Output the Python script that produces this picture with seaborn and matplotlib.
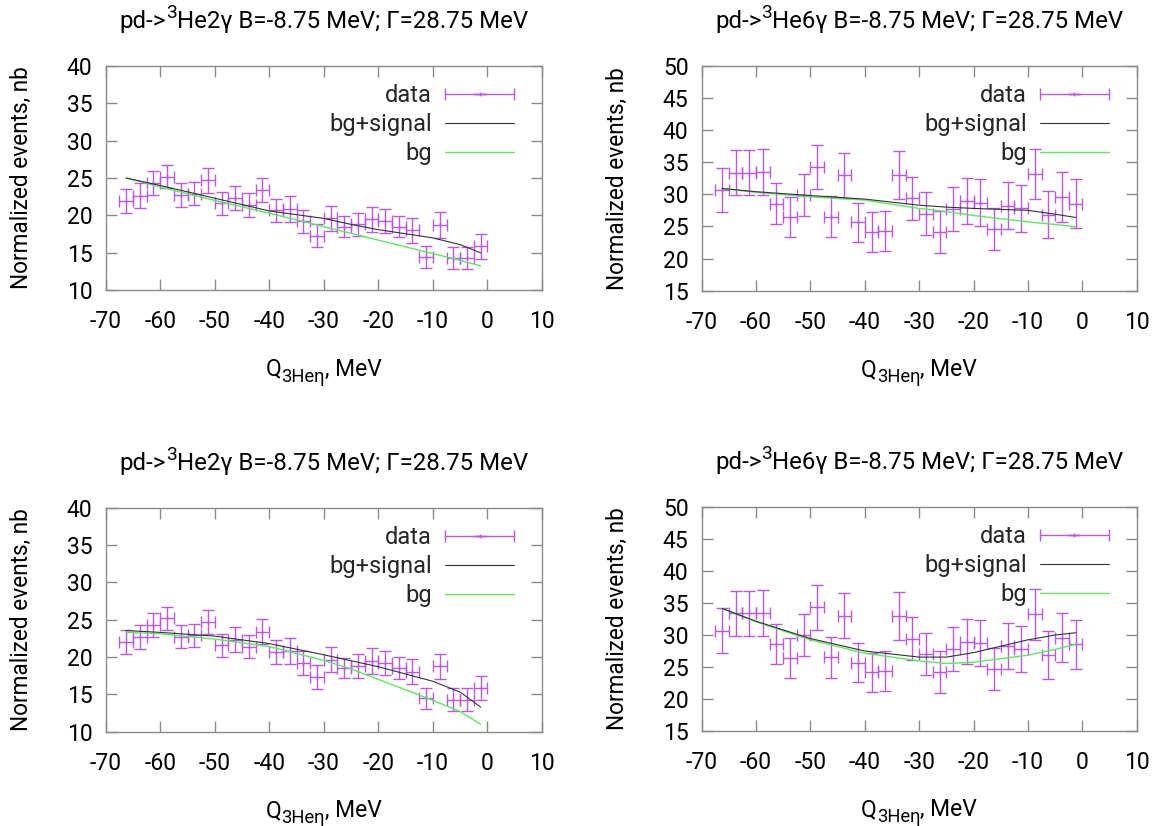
import numpy as np
import pandas as pd
import matplotlib
matplotlib.use("Agg")
import matplotlib.pyplot as plt
import seaborn as sns
from matplotlib.container import ErrorbarContainer
from matplotlib.legend_handler import HandlerErrorbar
from matplotlib.lines import Line2D
from matplotlib.transforms import offset_copy

# ---------------- data ----------------
q_bins = [-66.25, -63.75, -61.25, -58.75, -56.25, -53.75, -51.25, -48.75, -46.25,
          -43.75, -41.25, -38.75, -36.25, -33.75, -31.25, -28.75, -26.25, -23.75,
          -21.25, -18.75, -16.25, -13.75, -11.25, -8.75, -6.25, -3.75, -1.25]
q_halfwidth = [1.25] * 27

events_2g = [21.99, 22.64, 24.33, 25.20, 22.71, 22.91, 24.71, 21.61, 22.33,
             21.39, 23.40, 20.66, 20.81, 19.21, 17.31, 19.61, 18.50, 18.80,
             19.47, 19.23, 18.52, 18.03, 14.46, 18.74, 14.30, 14.30, 15.86]
errors_2g = [1.60, 1.63, 1.63, 1.56, 1.56, 1.58, 1.65, 1.54, 1.63,
             1.54, 1.63, 1.60, 1.72, 1.58, 1.56, 1.67, 1.36, 1.58,
             1.72, 1.60, 1.43, 1.65, 1.43, 1.69, 1.49, 1.49, 1.63]

events_6g = [30.65, 33.37, 33.37, 33.42, 28.52, 26.40, 29.92, 34.27, 26.50,
             32.95, 25.65, 24.12, 24.33, 32.98, 29.35, 27.00, 24.15, 27.72,
             28.91, 28.70, 24.61, 28.21, 27.80, 33.16, 26.84, 29.56, 28.50]
errors_6g = [3.47, 3.50, 3.50, 3.55, 3.16, 3.10, 3.26, 3.47, 3.20,
             3.50, 3.03, 3.06, 3.10, 3.73, 3.37, 3.34, 3.24, 3.45,
             3.55, 3.60, 3.30, 3.63, 3.63, 3.96, 3.70, 3.83, 3.80]

curve_q = [-66.25, -60, -50, -40, -30, -25, -20, -10, -5, -1.25]

# top-left (2 gamma, fit 1)
tl_sig = [25.0, 24.0, 22.3, 20.6, 19.6, 18.8, 18.1, 17.0, 16.1, 15.0]
tl_bg = [25.0, 23.8, 22.0, 20.3, 18.5, 17.6, 16.7, 14.9, 14.0, 13.25]
# top-right (6 gamma, fit 1)
tr_sig = [30.9, 30.4, 29.8, 29.25, 28.3, 28.0, 27.8, 27.5, 26.9, 26.4]
tr_bg = [30.9, 30.3, 29.6, 29.1, 27.8, 27.3, 26.7, 25.7, 25.3, 24.95]
# bottom-left (2 gamma, fit 2)
bl_sig = [23.55, 23.3, 22.8, 21.8, 20.3, 19.5, 18.7, 16.75, 15.3, 13.3]
bl_bg = [23.3, 23.1, 22.4, 21.4, 19.55, 18.4, 17.0, 14.2, 12.7, 11.0]
# bottom-right (6 gamma, fit 2)
br_sig = [34.1, 32.1, 29.4, 27.45, 26.5, 26.5, 27.2, 29.2, 29.95, 30.3]
br_bg = [34.1, 32.0, 29.2, 27.1, 25.9, 25.5, 25.7, 26.8, 27.7, 28.5]

title_2g = [("pd->", 1.0, 0.0), ("3", 0.8, 0.42), ("He2γ B=-8.75 MeV; Γ=28.75 MeV", 1.0, 0.0)]
title_6g = [("pd->", 1.0, 0.0), ("3", 0.8, 0.42), ("He6γ B=-8.75 MeV; Γ=28.75 MeV", 1.0, 0.0)]
x_label = [("Q", 1.0, 0.0), ("3Heη", 0.8, -0.25), (", MeV", 1.0, 0.0)]
y_label = "Normalized events, nb"
x_ticks = [-70, -60, -50, -40, -30, -20, -10, 0, 10]
y_ticks_2g = [10, 15, 20, 25, 30, 35, 40]
y_ticks_6g = [15, 20, 25, 30, 35, 40, 45, 50]
legend_labels = ["data", "bg+signal", "bg"]

# ---------------- style ----------------
sns.set_theme(style="ticks")
plt.rcParams["font.family"] = ["Roboto", "DejaVu Sans"]

DATA_C = "#b857e8"
SIG_C = "#333333"
BG_C = "#5ee85e"
SPINE_C = "#8a8a8a"

TICK_FS = 16.5
YLAB_FS = 16.3
XLAB_FS = 16.5
TITLE_FS = 17.3
LEG_FS = 17

W, H = 1164, 826
fig = plt.figure(figsize=(W / 100, H / 100), dpi=100)
renderer = fig.canvas.get_renderer()


def add_axes(left, right, top, bottom):
    return fig.add_axes([left / W, 1 - bottom / H, (right - left) / W, (bottom - top) / H])


def rich_text(ax, xa, ya, pieces, size):
    texts, widths = [], []
    for s, sc, rise in pieces:
        t = ax.text(xa, ya, s, transform=ax.transAxes, fontsize=size * sc,
                    ha="left", va="baseline", color="black")
        widths.append(t.get_window_extent(renderer).width)
        texts.append(t)
    x0 = -sum(widths) / 2.0
    for t, w, (s, sc, rise) in zip(texts, widths, pieces):
        t.set_transform(offset_copy(ax.transAxes, fig=fig, x=x0,
                                    y=rise * size * 100 / 72, units="dots"))
        x0 += w


panels = [
    (add_axes(105.7, 542.0, 65.7, 290.3), events_2g, errors_2g, tl_sig, tl_bg, title_2g, (10, 40), y_ticks_2g),
    (add_axes(701.7, 1136.7, 65.7, 290.7), events_6g, errors_6g, tr_sig, tr_bg, title_6g, (15, 50), y_ticks_6g),
    (add_axes(105.7, 542.0, 507.7, 731.7), events_2g, errors_2g, bl_sig, bl_bg, title_2g, (10, 40), y_ticks_2g),
    (add_axes(701.7, 1136.7, 506.7, 730.7), events_6g, errors_6g, br_sig, br_bg, title_6g, (15, 50), y_ticks_6g),
]

for ax, ev, er, sig, bg, title, ylim, yt in panels:
    eb = ax.errorbar(q_bins, ev, xerr=q_halfwidth, yerr=er, fmt="|", markersize=3,
                     color=DATA_C, ecolor=DATA_C, elinewidth=1.0, capsize=4.5,
                     capthick=1.0, markeredgewidth=1.0, zorder=2)
    df_sig = pd.DataFrame({"q": curve_q, "v": sig})
    df_bg = pd.DataFrame({"q": curve_q, "v": bg})
    sns.lineplot(data=df_sig, x="q", y="v", ax=ax, color=SIG_C, linewidth=0.8, zorder=4)
    sns.lineplot(data=df_bg, x="q", y="v", ax=ax, color=BG_C, linewidth=1.0, zorder=3)

    ax.set_xlim(-70, 10)
    ax.set_ylim(*ylim)
    ax.set_xticks(x_ticks)
    ax.set_yticks(yt)
    ax.set_xticklabels([str(v) for v in x_ticks])
    ax.set_yticklabels([str(v) for v in yt])
    ax.set_xlabel("")
    ax.set_ylabel("")
    for s in ax.spines.values():
        s.set_visible(True)
        s.set_color(SPINE_C)
        s.set_linewidth(1.0)
    ax.tick_params(axis="both", direction="in", length=8, width=1.0, color=SPINE_C,
                   labelcolor="black", labelsize=TICK_FS, top=True, right=True)
    ax.tick_params(axis="y", pad=9.5)
    ax.tick_params(axis="x", pad=14.5)

    rich_text(ax, 0.5, 1 + 37.7 / 224.6, title, TITLE_FS)
    rich_text(ax, 0.5, -85.5 / 224.6, x_label, XLAB_FS)
    ax.text(-84.0 / 436.3, 0.5, y_label, transform=ax.transAxes,
            ha="center", va="center", rotation=90, fontsize=YLAB_FS, color="black")

    h_sig = Line2D([], [], color=SIG_C, linewidth=0.8)
    h_bg = Line2D([], [], color=BG_C, linewidth=1.0)
    ax.legend([eb, h_sig, h_bg], legend_labels, loc="upper right",
              bbox_to_anchor=(0.936, 0.918), borderaxespad=0, borderpad=0,
              frameon=False, markerfirst=False, fontsize=LEG_FS, handlelength=2.92,
              handletextpad=0.56, labelspacing=0.25,
              handler_map={ErrorbarContainer: HandlerErrorbar(xerr_size=1.46, yerr_size=0)})

fig.savefig("out.png", dpi=100)
